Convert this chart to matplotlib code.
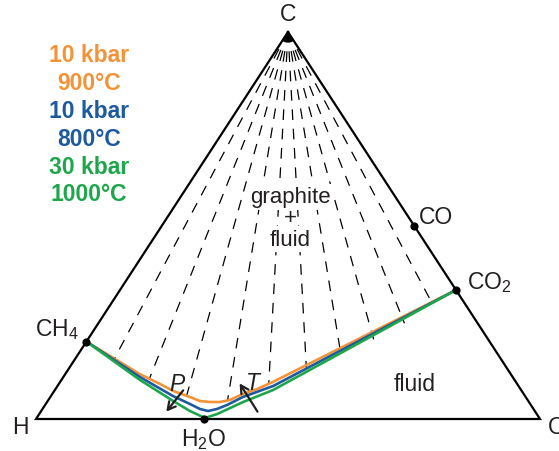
import numpy as np
import matplotlib
matplotlib.use("Agg")
import matplotlib.pyplot as plt

plt.rcParams['font.family'] = ['Liberation Sans', 'DejaVu Sans']
plt.rcParams['mathtext.fontset'] = 'custom'
plt.rcParams['mathtext.rm'] = 'Liberation Sans'
plt.rcParams['mathtext.it'] = 'Liberation Sans:italic'

# ---------------- data (atomic fractions xC, xO; xH = 1 - xC - xO) ----------------
vertex_names = ["C", "H", "O"]
vertex_xc = [1.0, 0.0, 0.0]
vertex_xo = [0.0, 0.0, 1.0]

species_names = ["CH$_4$", "H$_2$O", "CO$_2$", "CO"]
species_xc = [0.2, 0.0, 1 / 3, 0.5]
species_xo = [0.0, 1 / 3, 2 / 3, 0.5]

# graphite saturation curves
orange_xc = [0.2, 0.116, 0.0904, 0.0724, 0.0568, 0.0465, 0.0439, 0.0439, 0.0491, 0.0646, 0.0775, 0.0956, 1 / 3]
orange_xo = [0.0, 0.148, 0.201, 0.236, 0.277, 0.302, 0.323, 0.343, 0.360, 0.378, 0.400, 0.422, 2 / 3]
blue_xc = [0.2, 0.1085, 0.0594, 0.0388, 0.0258, 0.0207, 0.0258, 0.0362, 0.0568, 0.0853, 1 / 3]
blue_xo = [0.0, 0.152, 0.242, 0.286, 0.3125, 0.331, 0.346, 0.361, 0.382, 0.428, 2 / 3]
green_xc = [0.2, 0.1008, 0.0465, 0.0207, 0.0026, 0.0129, 0.0439, 0.0749, 1 / 3]
green_xo = [0.0, 0.156, 0.249, 0.295, 0.334, 0.353, 0.389, 0.433, 2 / 3]

curve_labels = [["10 kbar", "900°C"], ["10 kbar", "800°C"], ["30 kbar", "1000°C"]]
curve_colors = ["#F39237", "#1D5A9E", "#1DA64A"]

# tie lines graphite-fluid: O/(O+H) ratio of each tie line
tie_ratio = [0.092, 0.193, 0.286, 0.374, 0.458, 0.542, 0.626, 0.714, 0.807, 0.908]

# ---------------- geometry ----------------
H_TRI = 387 / 504
TXT = '#231F20'


def to_xy(xc, xo):
    xc = np.asarray(xc, float)
    xo = np.asarray(xo, float)
    return xo + 0.5 * xc, H_TRI * xc


fig = plt.figure(figsize=(5.59, 4.52), dpi=100)
ax = fig.add_axes([0, 0, 1, 1])
ax.set_xlim(-36 / 504, 523 / 504)
ax.set_ylim(-32 / 504, 420 / 504)
ax.axis('off')

# tie lines (dashed), from C to the orange curve
oxc = np.array(orange_xc)
oxo = np.array(orange_xo)
r_curve = oxo / (1 - oxc)
for r in tie_ratio:
    xc_end = np.interp(r, r_curve, oxc)
    xo_end = r * (1 - xc_end)
    x, y = to_xy([1.0, xc_end], [0.0, xo_end])
    ax.plot(x, y, color='black', lw=0.9, dashes=(8.5, 7.0), zorder=2)

# triangle
tx, ty = to_xy(vertex_xc + [vertex_xc[0]], vertex_xo + [vertex_xo[0]])
ax.plot(tx, ty, color='black', lw=1.6, zorder=3, solid_joinstyle='miter')

# curves (orange below, green on top)
for xc, xo, col in [(orange_xc, orange_xo, curve_colors[0]),
                    (blue_xc, blue_xo, curve_colors[1]),
                    (green_xc, green_xo, curve_colors[2])]:
    x, y = to_xy(xc, xo)
    ax.plot(x, y, color=col, lw=1.9, zorder=4, solid_joinstyle='round')

# species points
sx, sy = to_xy(species_xc, species_xo)
ax.scatter(sx, sy, s=24, color='black', zorder=6)

FS = 16.5
# vertex labels
vx, vy = to_xy(vertex_xc, vertex_xo)
ax.annotate("C", (vx[0], vy[0]), xytext=(0, 13), textcoords='offset points',
            ha='center', va='center', fontsize=FS, color=TXT)
ax.annotate("H", (vx[1], vy[1]), xytext=(-11.5, -5.5), textcoords='offset points',
            ha='center', va='center', fontsize=FS, color=TXT)
ax.annotate("O", (vx[2], vy[2]), xytext=(5.5, -5.5), textcoords='offset points',
            ha='left', va='center', fontsize=FS, color=TXT, annotation_clip=False)

# species labels
offs = [(-5.5, 5.0, 'right', 'baseline'), (0, -5.0, 'center', 'top'),
        (8.0, 1.5, 'left', 'baseline'), (3.5, 1.5, 'left', 'baseline')]
for name, px, py, (dx, dy, ha, va) in zip(species_names, sx, sy, offs):
    ax.annotate(name, (px, py), xytext=(dx, dy), textcoords='offset points',
                ha=ha, va=va, fontsize=FS, color=TXT)

# region labels
wb = dict(boxstyle='square,pad=0.1', fc='white', ec='none')
ax.text(0.504, 0.399, "+", ha='center', va='center', fontsize=FS - 0.5, color=TXT, zorder=5)
ax.text(0.504, 0.430, "graphite", ha='center', va='baseline', fontsize=FS - 0.5, color=TXT, bbox=wb, zorder=6)
ax.text(0.504, 0.346, "fluid", ha='center', va='baseline', fontsize=FS - 0.5, color=TXT, bbox=wb, zorder=6)
ax.text(0.752, 0.071, "fluid", ha='center', va='center', fontsize=FS, color=TXT)

# P and T arrows
p0 = to_xy([0.074], [0.255])
p1 = to_xy([0.019], [0.249])
t0 = to_xy([0.019], [0.430])
t1 = to_xy([0.092], [0.358])
for a, b in [(p0, p1), (t0, t1)]:
    ax.annotate("", xy=(b[0][0], b[1][0]), xytext=(a[0][0], a[1][0]),
                arrowprops=dict(arrowstyle='->,head_length=0.55,head_width=0.3',
                                color=TXT, lw=1.6, shrinkA=0, shrinkB=0), zorder=7)
pl = to_xy([0.093], [0.233])
tl = to_xy([0.0956], [0.383])
ax.text(pl[0][0], pl[1][0], "P", style='italic', ha='center', va='center', fontsize=FS, color=TXT, zorder=8)
ax.text(tl[0][0], tl[1][0], "T", style='italic', ha='center', va='center', fontsize=FS, color=TXT, zorder=8)

# legend-like coloured labels
legend_y = [56, 84, 112, 140, 168, 195]
i = 0
for lab, col in zip(curve_labels, curve_colors):
    for line in lab:
        fig.text(89 / 559, 1 - legend_y[i] / 452, line, ha='center', va='center',
                 fontsize=16.5, fontweight='bold', color=col)
        i += 1

fig.savefig("out.png", dpi=100)
